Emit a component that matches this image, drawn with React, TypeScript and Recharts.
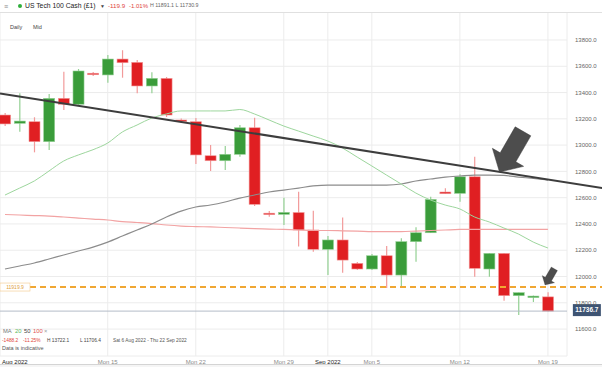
import React from 'react';
import { ComposedChart, Bar, Line, XAxis, YAxis, CartesianGrid, ReferenceLine, ReferenceDot } from 'recharts';

// IG daily candles incl. the short Sunday session
const days = [
  'Sun 7 Aug', 'Mon 8 Aug', 'Tue 9 Aug', 'Wed 10 Aug', 'Thu 11 Aug', 'Fri 12 Aug',
  'Sun 14 Aug', 'Mon 15 Aug', 'Tue 16 Aug', 'Wed 17 Aug', 'Thu 18 Aug', 'Fri 19 Aug',
  'Sun 21 Aug', 'Mon 22 Aug', 'Tue 23 Aug', 'Wed 24 Aug', 'Thu 25 Aug', 'Fri 26 Aug',
  'Sun 28 Aug', 'Mon 29 Aug', 'Tue 30 Aug', 'Wed 31 Aug', 'Thu 1 Sep', 'Fri 2 Sep',
  'Sun 4 Sep', 'Mon 5 Sep', 'Tue 6 Sep', 'Wed 7 Sep', 'Thu 8 Sep', 'Fri 9 Sep',
  'Sun 11 Sep', 'Mon 12 Sep', 'Tue 13 Sep', 'Wed 14 Sep', 'Thu 15 Sep', 'Fri 16 Sep',
  'Sun 18 Sep', 'Mon 19 Sep',
];
const open = [
  13229, 13166, 13178, 13026, 13356, 13311,
  13547, 13534, 13655, 13630, 13450, 13508,
  13191, 13178, 12919, 12881, 12930, 13132,
  12482, 12473, 12487, 12354, 12207, 12278,
  12100, 12057, 12158, 12011, 12265, 12333,
  12643, 12633, 12759, 12057, 12176, 11854,
  11844, 11845,
];
const high = [
  13244, 13394, 13212, 13389, 13559, 13579,
  13556, 13686, 13722.1, 13648, 13554, 13518,
  13202, 13206, 13001, 12993, 13153, 13209,
  12498, 12600, 12645, 12501, 12308, 12450,
  12110, 12171, 12232, 12291, 12374, 12607,
  12671, 12778, 12912, 12179, 12179, 11878,
  11855, 11880,
];
const low = [
  13145, 13102, 12945, 12963, 13267, 13305,
  13526, 13475, 13513, 13394, 13394, 13214,
  13168, 12856, 12803, 12810, 12912, 12536,
  12455, 12392, 12228, 12189, 12011, 12029,
  12049, 12049, 11912, 11918, 12112, 12331,
  12628, 12569, 11998, 11998, 11816, 11706.4,
  11806, 11731,
];
const close = [
  13161, 13183, 13026, 13356, 13311, 13564,
  13536, 13655, 13627, 13450, 13508, 13229,
  13180, 12925, 12881, 12930, 13132, 12549,
  12476, 12488, 12354, 12207, 12278, 12125,
  12057, 12158, 12011, 12265, 12333, 12587,
  12630, 12759, 12062, 12176, 11854, 11877,
  11851, 11736.7,
];
const ma20 = [
  12620, 12673, 12727, 12803, 12879, 12925,
  12965, 13016, 13100, 13153, 13206, 13237,
  13260, 13260, 13260, 13260, 13271, 13237,
  13191, 13145, 13107, 13069, 13031, 12978,
  12909, 12841, 12772, 12704, 12635, 12582,
  12544, 12514, 12453, 12415, 12369, 12323,
  12262, 12217,
];
const ma50 = [
  12057, 12080, 12103, 12133, 12164, 12194,
  12224, 12262, 12308, 12354, 12399, 12453,
  12498, 12529, 12544, 12567, 12597, 12620,
  12643, 12658, 12673, 12689, 12696, 12696,
  12696, 12696, 12696, 12704, 12727, 12742,
  12757, 12765, 12772, 12772, 12769, 12757,
  12746, 12734,
];
const ma100 = [
  12472, 12468, 12464, 12460, 12453, 12445,
  12437, 12430, 12418, 12411, 12403, 12392,
  12384, 12380, 12377, 12373, 12369, 12365,
  12361, 12358, 12354, 12350, 12350, 12348,
  12346, 12342, 12341, 12342, 12346, 12350,
  12354, 12358, 12359, 12359, 12359, 12359,
  12359, 12359,
];

const yTicks = [11600, 11800, 12000, 12200, 12400, 12600, 12800, 13000, 13200, 13400, 13600, 13800];
const xTicks = [-0.34, 7, 13, 19, 22, 25, 31, 37];
const xTickLabels = ['Aug 2022', 'Mon 15', 'Mon 22', 'Mon 29', 'Sep 2022', 'Mon 5', 'Mon 12', 'Mon 19'];

const trendLine = [{ x: -0.34, y: 13393 }, { x: 40.7, y: 12673 }];
const supportLevel = 11919.9;
const lastPrice = 11736.7;
const arrows = [
  { x: 33.7, y: 12795, scale: 1 },
  { x: 36.8, y: 11935, scale: 0.4 },
];

const data = days.map((day, i) => ({
  i,
  day,
  open: open[i],
  high: high[i],
  low: low[i],
  close: close[i],
  range: [low[i], high[i]],
  ma20: ma20[i],
  ma50: ma50[i],
  ma100: ma100[i],
}));

const FONT = "'Liberation Sans', Arial, sans-serif";

const Candle = (props: any) => {
  const { x, y, width, height, payload } = props;
  const { open: o, close: c, high: h, low: l } = payload;
  const up = c >= o;
  const cx = x + width / 2;
  const k = height / (h - l || 1);
  const yOf = (v: number) => y + (h - v) * k;
  const top = yOf(Math.max(o, c));
  const bot = yOf(Math.min(o, c));
  const bodyH = Math.max(bot - top, 1.5);
  const body = up ? '#3a9c3a' : '#e01f22';
  const wick = up ? '#93d093' : '#f29a9a';
  return (
    <g>
      <line x1={cx} x2={cx} y1={y} y2={y + height} stroke={wick} strokeWidth={1.2} />
      <rect x={x} y={top} width={width} height={bodyH} fill={body} stroke={wick} strokeWidth={0.6} />
    </g>
  );
};

const Arrow = (props: any) => {
  const { cx, cy, scale } = props;
  const pts = '0,0 24.1,-5.7 16.3,-10.2 31.3,-36.2 15.7,-45.2 0.7,-19.2 -7.1,-23.7';
  return (
    <polygon
      points={pts}
      transform={`translate(${cx},${cy}) scale(${scale})`}
      fill="#4d4d4d"
      stroke="#3a3a3a"
      strokeWidth={0.5}
    />
  );
};

const XTick = (props: any) => {
  const { x, y, payload, index } = props;
  const label = xTickLabels[index];
  const isMonth = label.indexOf('20') > 0;
  return (
    <text
      x={index === 0 ? 2 : x}
      y={y + 8}
      textAnchor={index === 0 ? 'start' : 'middle'}
      fontSize={6}
      fontFamily={FONT}
      fill={isMonth ? '#222' : '#8a8a8a'}
    >
      {label}
    </text>
  );
};

const txt = (left: number, top: number, size: number, color: string, s: string, weight = 400) => (
  <span
    style={{
      position: 'absolute',
      left,
      top: top - size / 2,
      fontSize: size,
      lineHeight: 1,
      color,
      fontWeight: weight,
      whiteSpace: 'nowrap',
    }}
  >
    {s}
  </span>
);

export default function App() {
  return (
    <div
      style={{
        position: 'absolute',
        left: 0,
        top: 0,
        width: 602,
        height: 367,
        background: '#fff',
        fontFamily: FONT,
        overflow: 'hidden',
      }}
    >
      <ComposedChart
        width={602}
        height={367}
        data={data}
        margin={{ top: 12, right: 0, bottom: 0, left: 0 }}
      >
        <CartesianGrid stroke="#ececec" strokeWidth={1} />
        <XAxis
          dataKey="i"
          type="number"
          domain={[-0.34, 38.3]}
          ticks={xTicks}
          allowDataOverflow
          height={11}
          axisLine={false}
          tickLine={false}
          tickSize={0}
          tickMargin={0}
          interval={0}
          tick={<XTick />}
        />
        <YAxis
          orientation="right"
          width={35}
          domain={[11395, 14013]}
          ticks={yTicks}
          allowDataOverflow
          axisLine={false}
          tickLine={false}
          tickFormatter={(v: number) => v.toFixed(1)}
          tick={{ fontSize: 6, fill: '#666', fontFamily: FONT }}
        />
        <Line type="monotone" dataKey="ma100" stroke="#f2a3a3" strokeWidth={1.2} dot={false} isAnimationActive={false} />
        <Line type="monotone" dataKey="ma50" stroke="#8c8c8c" strokeWidth={1.2} dot={false} isAnimationActive={false} />
        <Line type="monotone" dataKey="ma20" stroke="#9dd69d" strokeWidth={1} dot={false} isAnimationActive={false} />
        <ReferenceLine y={lastPrice} stroke="#b4bcc8" strokeWidth={1} />
        <Bar dataKey="range" barSize={11} shape={<Candle />} isAnimationActive={false} />
        <ReferenceLine
          segment={[{ x: -0.34, y: supportLevel }, { x: 40.7, y: supportLevel }]}
          ifOverflow="visible"
          stroke="#f0a733"
          strokeWidth={2}
          strokeDasharray="6 4"
        />
        <ReferenceLine
          segment={trendLine}
          ifOverflow="visible"
          stroke="#3d3d3d"
          strokeWidth={2}
        />
        {arrows.map((a, k) => (
          <ReferenceDot
            key={k}
            x={a.x}
            y={a.y}
            ifOverflow="visible"
            shape={(p: any) => <Arrow cx={p.cx} cy={p.cy} scale={a.scale} />}
          />
        ))}
        <ReferenceDot
          x={-0.34}
          y={supportLevel}
          ifOverflow="visible"
          shape={(p: any) => (
            <g>
              <rect x={p.cx} y={p.cy - 4} width={30} height={8} fill="#fff" stroke="#f3c98a" strokeWidth={0.6} />
              <text x={p.cx + 15} y={p.cy + 1.8} textAnchor="middle" fontSize={5} fill="#e0a040" fontFamily={FONT}>
                {supportLevel.toFixed(1)}
              </text>
            </g>
          )}
        />
        <ReferenceDot
          x={38.7}
          y={lastPrice}
          ifOverflow="visible"
          shape={(p: any) => (
            <g>
              <rect x={p.cx} y={p.cy - 7} width={28} height={12} fill="#3e5473" />
              <text x={p.cx + 14} y={p.cy + 1.3} textAnchor="middle" fontSize={6.5} fill="#fff" fontWeight={600} fontFamily={FONT}>
                {lastPrice.toFixed(1)}
              </text>
            </g>
          )}
        />
      </ComposedChart>

      {/* header */}
      <div
        style={{
          position: 'absolute',
          left: 0,
          top: 0,
          width: 602,
          height: 12,
          background: '#fff',
          borderBottom: '1px solid #e0e0e0',
        }}
      >
        {txt(4, 6, 7, '#888', '≡')}
        <span
          style={{
            position: 'absolute',
            left: 18,
            top: 4,
            width: 4,
            height: 4,
            borderRadius: 2,
            background: '#2fae3a',
          }}
        />
        {txt(25, 6, 6.8, '#1a1a1a', 'US Tech 100 Cash (£1)', 500)}
        {txt(100, 6, 5, '#444', '▼')}
        {txt(108, 6, 6.2, '#e0443c', '-119.9')}
        {txt(129, 6, 6, '#e0443c', '-1.01%')}
        {txt(150, 6, 5.3, '#666', 'H 11891.1 L 11730.9')}
      </div>

      {txt(10, 28, 5.5, '#444', 'Daily')}
      {txt(33, 28, 5.5, '#444', 'Mid')}

      {/* legend */}
      {txt(3, 332, 5.8, '#777', 'MA')}
      {txt(15, 332, 5.8, '#5cb85c', '20')}
      {txt(24, 332, 5.8, '#444', '50')}
      {txt(33, 332, 5.8, '#e05555', '100')}
      {txt(44, 332, 5.8, '#999', '×')}
      {txt(2, 341, 4.8, '#e0443c', '-1488.2')}
      {txt(23, 341, 4.8, '#e0443c', '-11.25%')}
      {txt(47, 341, 4.8, '#444', 'H 13722.1')}
      {txt(80, 341, 4.8, '#444', 'L 11706.4')}
      {txt(113, 341, 4.8, '#555', 'Sat 6 Aug 2022 - Thu 22 Sep 2022')}
      {txt(2, 349, 5.5, '#555', 'Data is indicative')}

      <div
        style={{
          position: 'absolute',
          left: 0,
          top: 364,
          width: 602,
          height: 3,
          borderTop: '1px solid #d4d4d4',
          background: '#f5f5f5',
        }}
      />
    </div>
  );
}
